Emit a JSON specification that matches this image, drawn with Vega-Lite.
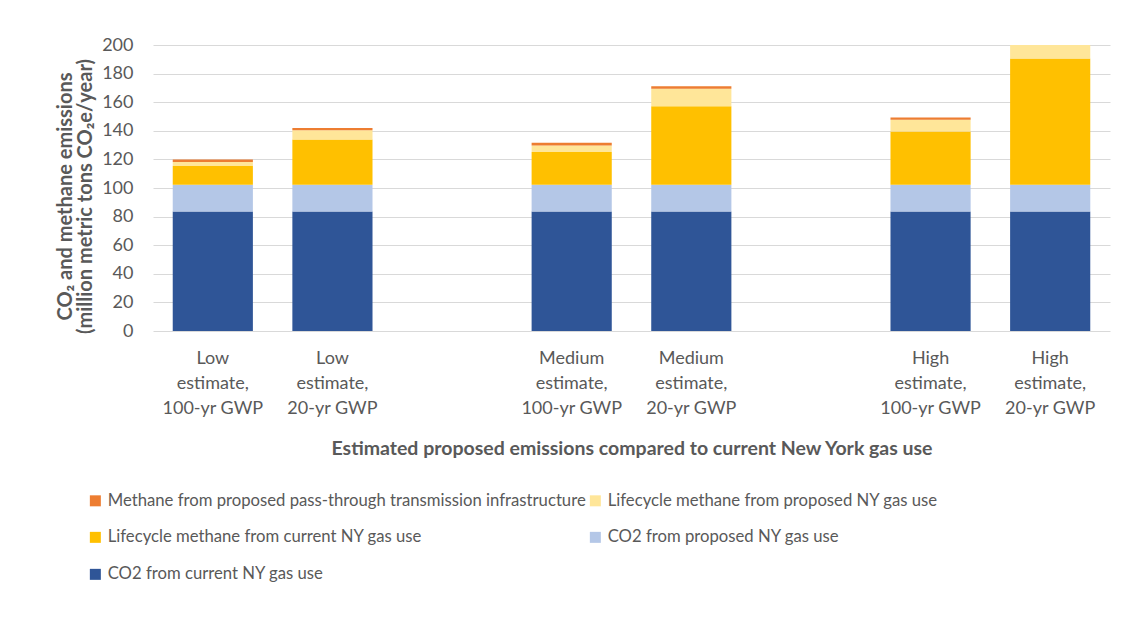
{
  "$schema": "https://vega.github.io/schema/vega-lite/v6.json",
  "width": 957,
  "height": 286,
  "autosize": {"type": "none"},
  "padding": {"left": 153, "top": 45, "right": 17, "bottom": 294},
  "background": "white",
  "config": {"view": {"stroke": null}, "font": "Lato", "text": {"font": "Lato"}},
  "data": {
    "values": [
      {"scenario": "Low|estimate,|100-yr GWP", "source": "CO2 from current NY gas use", "rank": 1, "value": 83.5},
      {"scenario": "Low|estimate,|100-yr GWP", "source": "CO2 from proposed NY gas use", "rank": 2, "value": 18.8},
      {"scenario": "Low|estimate,|100-yr GWP", "source": "Lifecycle methane from current NY gas use", "rank": 3, "value": 13.1},
      {"scenario": "Low|estimate,|100-yr GWP", "source": "Lifecycle methane from proposed NY gas use", "rank": 4, "value": 2.8},
      {"scenario": "Low|estimate,|100-yr GWP", "source": "Methane from proposed pass-through transmission infrastructure", "rank": 5, "value": 1.8},
      {"scenario": "Low|estimate,|20-yr GWP", "source": "CO2 from current NY gas use", "rank": 1, "value": 83.5},
      {"scenario": "Low|estimate,|20-yr GWP", "source": "CO2 from proposed NY gas use", "rank": 2, "value": 18.8},
      {"scenario": "Low|estimate,|20-yr GWP", "source": "Lifecycle methane from current NY gas use", "rank": 3, "value": 31.7},
      {"scenario": "Low|estimate,|20-yr GWP", "source": "Lifecycle methane from proposed NY gas use", "rank": 4, "value": 6.4},
      {"scenario": "Low|estimate,|20-yr GWP", "source": "Methane from proposed pass-through transmission infrastructure", "rank": 5, "value": 1.5},
      {"scenario": "Medium|estimate,|100-yr GWP", "source": "CO2 from current NY gas use", "rank": 1, "value": 83.5},
      {"scenario": "Medium|estimate,|100-yr GWP", "source": "CO2 from proposed NY gas use", "rank": 2, "value": 18.8},
      {"scenario": "Medium|estimate,|100-yr GWP", "source": "Lifecycle methane from current NY gas use", "rank": 3, "value": 22.8},
      {"scenario": "Medium|estimate,|100-yr GWP", "source": "Lifecycle methane from proposed NY gas use", "rank": 4, "value": 4.7},
      {"scenario": "Medium|estimate,|100-yr GWP", "source": "Methane from proposed pass-through transmission infrastructure", "rank": 5, "value": 1.9},
      {"scenario": "Medium|estimate,|20-yr GWP", "source": "CO2 from current NY gas use", "rank": 1, "value": 83.5},
      {"scenario": "Medium|estimate,|20-yr GWP", "source": "CO2 from proposed NY gas use", "rank": 2, "value": 18.8},
      {"scenario": "Medium|estimate,|20-yr GWP", "source": "Lifecycle methane from current NY gas use", "rank": 3, "value": 54.9},
      {"scenario": "Medium|estimate,|20-yr GWP", "source": "Lifecycle methane from proposed NY gas use", "rank": 4, "value": 12.2},
      {"scenario": "Medium|estimate,|20-yr GWP", "source": "Methane from proposed pass-through transmission infrastructure", "rank": 5, "value": 1.8},
      {"scenario": "High|estimate,|100-yr GWP", "source": "CO2 from current NY gas use", "rank": 1, "value": 83.5},
      {"scenario": "High|estimate,|100-yr GWP", "source": "CO2 from proposed NY gas use", "rank": 2, "value": 18.8},
      {"scenario": "High|estimate,|100-yr GWP", "source": "Lifecycle methane from current NY gas use", "rank": 3, "value": 37.2},
      {"scenario": "High|estimate,|100-yr GWP", "source": "Lifecycle methane from proposed NY gas use", "rank": 4, "value": 8.2},
      {"scenario": "High|estimate,|100-yr GWP", "source": "Methane from proposed pass-through transmission infrastructure", "rank": 5, "value": 1.6},
      {"scenario": "High|estimate,|20-yr GWP", "source": "CO2 from current NY gas use", "rank": 1, "value": 83.5},
      {"scenario": "High|estimate,|20-yr GWP", "source": "CO2 from proposed NY gas use", "rank": 2, "value": 18.8},
      {"scenario": "High|estimate,|20-yr GWP", "source": "Lifecycle methane from current NY gas use", "rank": 3, "value": 88.2},
      {"scenario": "High|estimate,|20-yr GWP", "source": "Lifecycle methane from proposed NY gas use", "rank": 4, "value": 19.6},
      {"scenario": "High|estimate,|20-yr GWP", "source": "Methane from proposed pass-through transmission infrastructure", "rank": 5, "value": 1.8}
    ]
  },
  "mark": {"type": "bar", "clip": true},
  "encoding": {
    "x": {
      "field": "scenario",
      "type": "nominal",
      "scale": {
        "domain": ["Low|estimate,|100-yr GWP", "Low|estimate,|20-yr GWP", "gap1", "Medium|estimate,|100-yr GWP", "Medium|estimate,|20-yr GWP", "gap2", "High|estimate,|100-yr GWP", "High|estimate,|20-yr GWP"],
        "paddingInner": 0.33,
        "paddingOuter": 0.165
      },
      "axis": {
        "title": "Estimated proposed emissions compared to current New York gas use",
        "labelExpr": "indexof(datum.value, 'gap') == 0 ? '' : split(datum.value, '|')",
        "labelAngle": 0,
        "labelBaseline": "top",
        "labelFontSize": 18,
        "labelLineHeight": 25,
        "labelColor": "#595959",
        "labelPadding": 18,
        "domain": false,
        "ticks": false,
        "titleFontSize": 19.5,
        "titleFontWeight": "bold",
        "titleColor": "#595959",
        "titlePadding": 22
      }
    },
    "y": {
      "field": "value",
      "type": "quantitative",
      "stack": "zero",
      "scale": {"domain": [0, 200], "nice": false},
      "axis": {
        "title": ["CO₂ and methane emissions", "(million metric tons CO₂e/year)"],
        "values": [0, 20, 40, 60, 80, 100, 120, 140, 160, 180, 200],
        "labelFontSize": 18,
        "labelColor": "#595959",
        "labelPadding": 20,
        "domain": false,
        "ticks": false,
        "gridColor": "#d9d9d9",
        "titleFontSize": 20,
        "titleFontWeight": "bold",
        "titleColor": "#595959",
        "titleLineHeight": 20,
        "titlePadding": 6,
        "titleY": 151
      }
    },
    "color": {
      "field": "source",
      "type": "nominal",
      "scale": {
        "domain": ["Methane from proposed pass-through transmission infrastructure", "Lifecycle methane from proposed NY gas use", "Lifecycle methane from current NY gas use", "CO2 from proposed NY gas use", "CO2 from current NY gas use"],
        "range": ["#ED7D31", "#FFE699", "#FFC000", "#B4C7E7", "#2F5597"]
      },
      "legend": {
        "title": null,
        "orient": "none",
        "legendX": -66,
        "legendY": 447,
        "columns": 2,
        "direction": "horizontal",
        "symbolType": "square",
        "symbolSize": 121,
        "symbolStrokeWidth": 0,
        "labelFontSize": 16.7,
        "labelColor": "#595959",
        "labelOffset": 4,
        "labelLimit": 700,
        "rowPadding": 19,
        "columnPadding": 1
      }
    },
    "order": {"field": "rank", "type": "quantitative"}
  }
}
